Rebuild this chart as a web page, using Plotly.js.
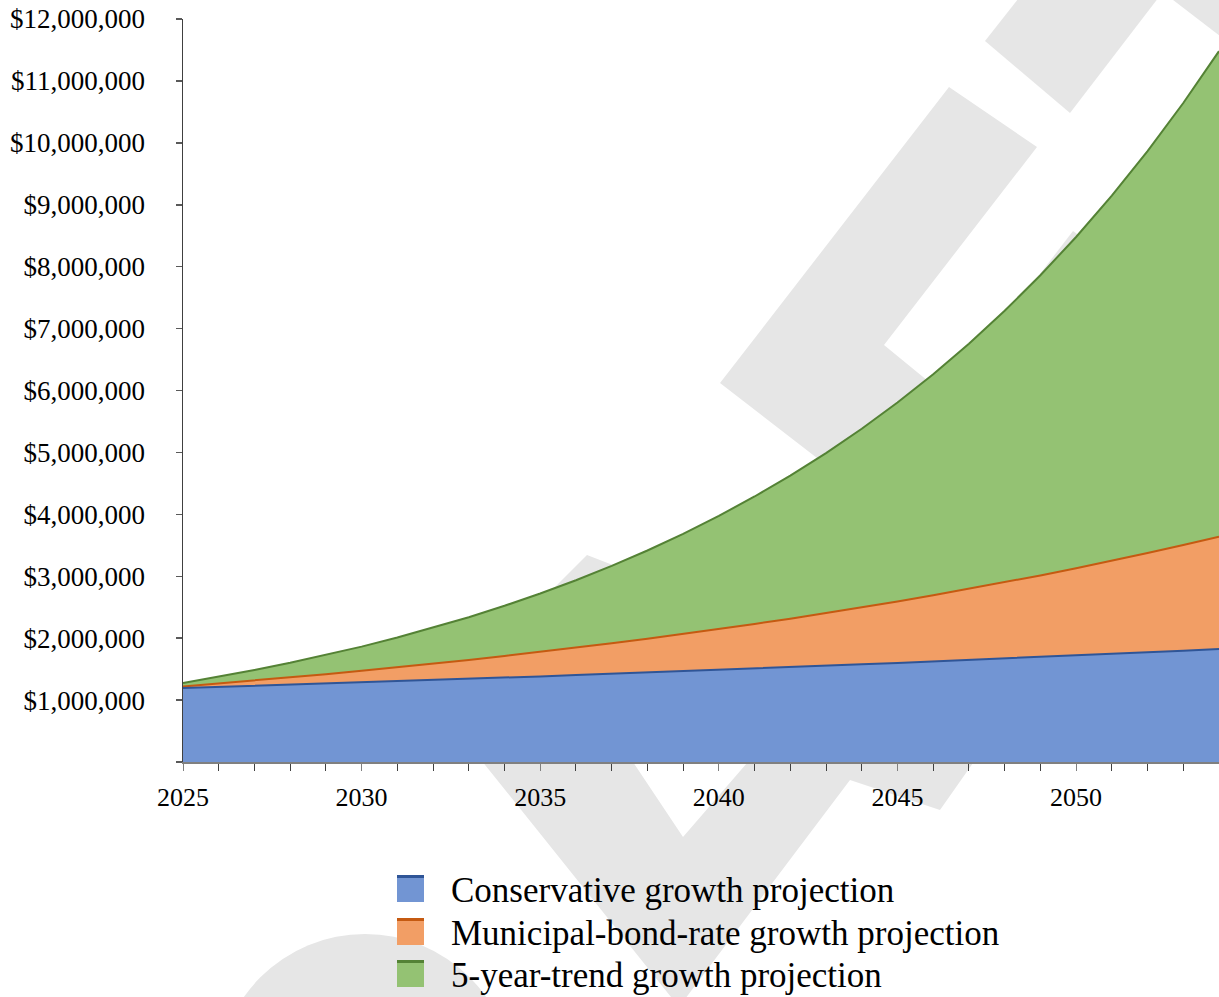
<!DOCTYPE html>
<html>
<head>
<meta charset="utf-8">
<script src="https://cdn.plot.ly/plotly-3.0.1.min.js"></script>
<style>html,body{margin:0;padding:0;background:#fff;}#chart{width:1219px;height:997px;}</style>
</head>
<body>
<div id="chart"></div>
<script>
// ---- Data ----
const years = [2025,2026,2027,2028,2029,2030,2031,2032,2033,2034,2035,2036,2037,2038,2039,2040,2041,2042,2043,2044,2045,2046,2047,2048,2049,2050,2051,2052,2053,2054];
const conservative = [1195000,1212600,1230400,1248500,1266800,1285500,1304400,1323500,1343000,1362700,1382800,1403100,1423700,1444600,1465900,1487400,1509300,1531500,1554000,1576800,1600000,1623500,1647400,1671600,1696200,1721100,1746400,1772100,1798200,1824600];
const municipal = [1220000,1266800,1315500,1366000,1418500,1472900,1529500,1588200,1649200,1712600,1778300,1846600,1917500,1991100,2067600,2147000,2229400,2315000,2403900,2496300,2592100,2691600,2795000,2902300,3013800,3129500,3249700,3374500,3504100,3638600];
const trend5 = [1276000,1376400,1484700,1601600,1727600,1863600,2010300,2168500,2339100,2523200,2721800,2936000,3167000,3416300,3685200,3975200,4288000,4625500,4989500,5382200,5805800,6262700,6755500,7287200,7860700,8479300,9146700,9866500,10643000,11480600];
const seriesNames = ["Conservative growth projection","Municipal-bond-rate growth projection","5-year-trend growth projection"];
const xTickVals = [2025,2030,2035,2040,2045,2050];
const yTickVals = [0,1000000,2000000,3000000,4000000,5000000,6000000,7000000,8000000,9000000,10000000,11000000,12000000];
const yTickText = ["","$1,000,000","$2,000,000","$3,000,000","$4,000,000","$5,000,000","$6,000,000","$7,000,000","$8,000,000","$9,000,000","$10,000,000","$11,000,000","$12,000,000"];

// ---- Styles ----
const fillColors = ["#7295d3","#f29e65","#94c273"];
const lineColors = ["#2f5597","#c55a11","#548235"];

// ---- Layout geometry ----
const W = 1219, H = 997;
const PL = 183, PR = 1219, PT = 19, PB = 762;
const FONT = "Liberation Serif, serif";

function toPaper(p){ return [(p[0]-PL)/(PR-PL), (PB-p[1])/(PB-PT)]; }
function pathFrom(pts){
  return pts.map((p,i)=>{const q=toPaper(p);return (i?"L":"M")+q[0].toFixed(5)+","+q[1].toFixed(5);}).join(" ")+" Z";
}

// background watermark (decorative)
const wmPolys = [
  [[985,41],[1070,113],[1172,-20],[1033,-20]],
  [[1147,-20],[1250,59],[1250,-20]],
  [[949,87],[1037,147],[884,345],[1000,440],[817,458],[720,383]],
  [[1073,231],[1160,295],[1100,370],[1030,287]],
  [[587,555],[618,567],[610,640],[510,632]],
  [[433,700],[679,1007],[850,780],[940,810],[973,763],[1010,700],[801,700],[747,763],[683,837],[633,762],[592,700]]
];
const WM = "#e6e6e6";
const shapes = wmPolys.map(pts=>({type:"path", xref:"paper", yref:"paper", path:pathFrom(pts), fillcolor:WM, line:{width:0}, layer:"below"}));
const c0 = toPaper([217,934]), c1 = toPaper([513,1230]);
shapes.push({type:"circle", xref:"paper", yref:"paper", x0:c0[0], x1:c1[0], y0:c1[1], y1:c0[1], fillcolor:WM, line:{width:0}, layer:"below"});

// custom legend (square swatch with darker top edge + text)
const legendRows = [888.5, 931.5, 973.5];   // pixel centres of swatches
const annotations = [];
seriesNames.forEach((name,i)=>{
  const cy = legendRows[i];
  const a = toPaper([397, cy-13.5]), b = toPaper([424, cy+13.5]), t = toPaper([424, cy-10.5]);
  shapes.push({type:"rect", xref:"paper", yref:"paper", x0:a[0], x1:b[0], y0:b[1], y1:a[1], fillcolor:fillColors[i], line:{width:0}, layer:"above"});
  shapes.push({type:"rect", xref:"paper", yref:"paper", x0:a[0], x1:b[0], y0:t[1], y1:a[1], fillcolor:lineColors[i], line:{width:0}, layer:"above"});
  const tp = toPaper([449, cy+2]);
  annotations.push({xref:"paper", yref:"paper", x:tp[0], y:tp[1], xanchor:"left", yanchor:"middle",
    text:name, showarrow:false, font:{family:FONT, size:35, color:"#000"}});
});

const order = [2,1,0];
const ys = [conservative, municipal, trend5];
const traces = order.map(i=>({
  x:years, y:ys[i], name:seriesNames[i], type:"scatter", mode:"lines", fill:"tozeroy",
  line:{color:lineColors[i], width:2}, fillcolor:fillColors[i], showlegend:false
}));

const layout = {
  width: W, height: H,
  margin: {l:PL, r:W-PR, t:PT, b:H-PB, pad:0},
  paper_bgcolor: "#ffffff",
  plot_bgcolor: "rgba(0,0,0,0)",
  font: {family: FONT, color:"#000", size:26},
  showlegend: false,
  hovermode: false,
  xaxis: {
    range:[2025,2054], tickvals:xTickVals, ticktext:xTickVals.map(String),
    ticks:"outside", ticklen:7, tickwidth:1, tickcolor:"#808080",
    showline:true, linecolor:"#808080", linewidth:1.5,
    showgrid:false, zeroline:false,
    tickfont:{family:FONT, size:26, color:"#000"},
    ticklabelstandoff: 4,
    minor:{dtick:1, tick0:2025, ticks:"outside", ticklen:7, tickwidth:1, tickcolor:"#404040", showgrid:false}
  },
  yaxis: {
    range:[0,12000000], tickvals:yTickVals, ticktext:yTickText,
    ticks:"outside", ticklen:6, tickwidth:1.5, tickcolor:"#595959",
    showline:true, linecolor:"#404040", linewidth:1.5,
    showgrid:false, zeroline:false,
    tickfont:{family:FONT, size:27, color:"#000"},
    ticklabelstandoff: 25
  },
  shapes: shapes,
  annotations: annotations
};

Plotly.newPlot("chart", traces, layout, {displayModeBar:false, staticPlot:true});
</script>
</body>
</html>
